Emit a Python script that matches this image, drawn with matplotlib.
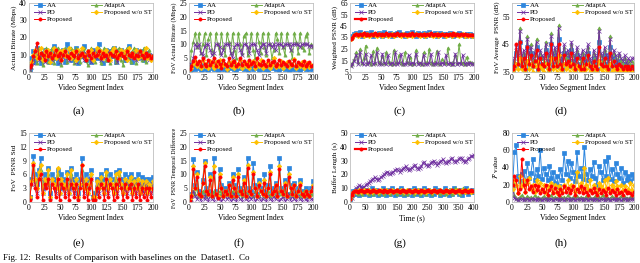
import numpy as np
import matplotlib
matplotlib.use("Agg")
import matplotlib.pyplot as plt

plt.rcParams['font.family'] = ['Liberation Serif', 'DejaVu Serif']
plt.rcParams['mathtext.fontset'] = 'stix'

names = ["AA", "AdaptA", "PD", "Proposed w/o ST", "Proposed"]
colors = ["#2E86DE", "#70AD47", "#7030A0", "#FFC000", "#FF0000"]
markers = ["s", "^", "x", "D", "o"]

# (a) Actual Bitrate (Mbps)
a_AA = [2, 8, 12, 6, 14, 9, 5, 11, 13, 7, 10, 6, 12, 15, 8, 5, 11, 9, 13, 6, 16, 10, 7, 12, 8, 14, 5, 9, 11, 15, 7, 10, 12, 6, 13, 9, 8, 16, 11, 5, 10, 13, 7, 12, 9, 14, 6, 11, 8, 13, 10, 7, 12, 15, 9, 6, 11, 13, 8, 10, 12, 7, 9, 11, 10, 8, 9]
a_AdaptA = [1, 3, 7, 13, 5, 14, 8, 4, 12, 14, 6, 9, 14, 5, 11, 14, 7, 4, 13, 14, 6, 10, 14, 8, 5, 14, 12, 6, 9, 14, 7, 4, 12, 14, 8, 6, 13, 14, 5, 10, 14, 7, 12, 5, 14, 9, 6, 13, 14, 7, 4, 11, 14, 8, 6, 12, 14, 5, 9, 13, 7, 14, 6, 10, 13, 8, 9]
a_PD = [1, 3, 5, 8, 10, 7, 9, 11, 6, 8, 12, 9, 7, 10, 8, 11, 6, 9, 12, 8, 10, 7, 9, 11, 8, 6, 10, 12, 9, 7, 11, 8, 10, 6, 9, 12, 8, 10, 7, 11, 9, 8, 12, 7, 10, 9, 11, 6, 8, 10, 12, 9, 7, 11, 8, 10, 9, 7, 12, 8, 10, 9, 11, 8, 7, 9, 10]
a_WoST = [4, 6, 10, 13, 8, 11, 14, 7, 12, 9, 13, 6, 10, 14, 8, 11, 12, 7, 13, 9, 10, 14, 8, 12, 11, 7, 13, 9, 14, 10, 8, 12, 11, 13, 7, 10, 14, 9, 12, 8, 11, 13, 10, 7, 12, 14, 9, 11, 8, 13, 10, 12, 7, 14, 9, 11, 10, 13, 8, 12, 9, 11, 14, 8, 10, 7, 9]
a_Prop = [3, 4, 9, 12, 17, 8, 11, 10, 7, 12, 9, 11, 8, 10, 13, 9, 11, 7, 10, 12, 9, 8, 11, 10, 9, 12, 8, 10, 11, 9, 7, 12, 10, 8, 11, 9, 10, 12, 8, 11, 9, 10, 7, 11, 10, 9, 12, 8, 10, 11, 9, 8, 12, 10, 9, 11, 8, 10, 9, 12, 10, 8, 11, 9, 10, 8, 9]

# (b) FoV Actual Bitrate (Mbps)
b_AA = [0.5, 1, 2, 1, 3, 1.5, 0.8, 2.5, 1, 2, 0.7, 3, 1.5, 1, 2.5, 0.8, 2, 1.2, 3, 1, 0.6, 2, 1.5, 2.8, 1, 0.8, 2.2, 1.5, 3, 1, 2, 0.7, 1.8, 2.5, 1, 1.5, 3, 0.8, 2, 1.2, 2.6, 1, 0.7, 2, 1.5, 3, 1, 2.2, 0.8, 1.6, 2.5, 1, 2, 0.8, 2.8, 1.2, 1.8, 1, 2.4, 0.7, 1.6, 2.2, 1, 2.5, 1.2, 1.8, 1]
b_AdaptA = [1, 8, 11, 14, 9, 14, 7, 10, 14, 6, 12, 14, 8, 5, 14, 10, 7, 14, 9, 6, 14, 11, 7, 14, 8, 5, 14, 10, 7, 13, 14, 6, 9, 14, 8, 5, 14, 11, 7, 14, 9, 6, 14, 10, 5, 8, 14, 12, 7, 14, 9, 6, 14, 10, 8, 5, 14, 11, 7, 14, 9, 8, 13, 14, 7, 10, 9]
b_PD = [3, 3, 5, 10, 9, 10, 7, 6, 9, 10, 10, 8, 6, 7, 10, 10, 9, 6, 8, 10, 10, 10, 7, 5, 9, 10, 10, 8, 6, 10, 10, 9, 7, 10, 10, 10, 8, 6, 9, 10, 10, 7, 10, 10, 9, 10, 8, 10, 10, 10, 9, 10, 10, 10, 8, 10, 10, 10, 10, 9, 10, 10, 10, 10, 9.5, 9.5, 9.5]
b_WoST = [1, 1.5, 3, 4, 2, 3.5, 1.5, 4.5, 2, 3, 1.5, 4, 2.5, 1.5, 3.5, 2, 4.5, 1.8, 3, 2.5, 1.2, 3.8, 2, 4, 1.5, 3, 2.2, 4.5, 1.5, 3, 2, 3.8, 1.4, 2.8, 4, 1.6, 3.2, 2, 4.2, 1.5, 3, 2.2, 3.6, 1.4, 2.6, 5, 1.8, 3, 2.2, 4, 1.5, 2.8, 3.5, 1.8, 3, 2.4, 4.6, 1.6, 3, 2.2, 3.8, 1.5, 2.6, 3.2, 1.8, 2.5, 2]
b_Prop = [1, 2, 4, 5.5, 3, 4, 2, 5, 3, 2, 4.5, 2.5, 3.5, 5, 2, 4, 3, 1.5, 4.5, 3, 2, 5, 2.5, 3.5, 4, 2, 3, 5, 2.5, 4, 3, 2, 4.5, 3, 3.5, 2, 5, 3, 2.5, 4, 3, 2, 4.5, 2.5, 3.5, 4, 2, 3, 4.5, 2.5, 3.5, 3, 2, 4, 3, 2.5, 4.5, 2, 3.5, 3, 2.5, 4, 2, 3, 3.5, 2, 2.5]

# (c) Weighted PSNR (dB)
c_AA = [35, 36, 38, 39, 37, 40, 36, 38, 39, 37, 38, 40, 36, 38, 37, 39, 38, 36, 40, 37, 38, 39, 36, 38, 37, 39, 40, 37, 38, 36, 39, 38, 37, 40, 38, 36, 39, 37, 38, 39, 36, 38, 40, 37, 38, 39, 36, 37, 39, 38, 36, 38, 37, 39, 38, 36, 38, 37, 39, 38, 37, 36, 38, 37, 38, 36, 37]
c_AdaptA = [11, 13, 16, 22, 14, 25, 13, 17, 28, 13, 14, 12, 23, 13, 26, 14, 13, 19, 13, 22, 14, 13, 12, 24, 13, 14, 20, 13, 12, 22, 14, 13, 18, 12, 13, 24, 14, 13, 12, 22, 13, 14, 25, 13, 12, 14, 23, 13, 12, 16, 14, 13, 26, 13, 12, 14, 20, 13, 29, 14, 13, 12, 18, 13, 14, 13, 13]
c_PD = [10, 12, 15, 20, 12, 22, 13, 12, 21, 12, 13, 20, 12, 13, 22, 12, 12, 21, 13, 12, 20, 12, 13, 12, 22, 12, 13, 21, 12, 12, 13, 20, 12, 13, 12, 21, 12, 13, 12, 20, 12, 12, 13, 21, 12, 12, 13, 22, 12, 13, 12, 20, 12, 13, 12, 12, 21, 12, 13, 12, 20, 12, 13, 12, 13, 12, 12]
c_WoST = [34, 35, 37, 38, 36, 37, 38, 36, 37, 38, 36, 37, 38, 37, 36, 38, 37, 36, 37, 38, 36, 37, 38, 36, 37, 38, 37, 36, 38, 37, 36, 37, 38, 36, 37, 38, 37, 36, 37, 38, 36, 37, 38, 37, 36, 37, 38, 36, 37, 38, 37, 36, 37, 38, 36, 37, 38, 37, 36, 37, 38, 36, 37, 36, 37, 36, 36]
c_Prop = [34, 35, 37, 38, 37.5, 38, 37, 38.5, 37.5, 38, 37, 38, 37.5, 38.5, 37, 38, 37.5, 38, 37, 38.5, 37.5, 38, 37, 38, 37.5, 38.5, 37, 38, 37.5, 38, 37, 38, 37.5, 38.5, 37, 38, 37.5, 38, 37, 38, 37.5, 38, 37, 38.5, 37.5, 38, 37, 38, 37.5, 38, 37, 38, 37.5, 38, 37, 38.5, 37.5, 38, 37, 38, 37.5, 38, 37, 37.5, 37, 37.5, 37]

# (d) FoV Average PSNR (dB)
d_AA = [36, 37, 42, 38, 46, 37, 40, 36, 44, 38, 42, 37, 39, 44, 36, 40, 38, 37, 43, 39, 36, 45, 38, 41, 37, 47, 39, 36, 42, 38, 40, 37, 43, 39, 36, 41, 38, 37, 40, 36, 39, 42, 37, 36, 40, 38, 36, 46, 39, 37, 41, 38, 36, 44, 37, 40, 38, 36, 39, 37, 36, 38, 36, 37, 36, 37, 36]
d_AdaptA = [37, 39, 43, 40, 51, 39, 42, 38, 48, 40, 45, 39, 41, 47, 38, 42, 40, 39, 46, 41, 38, 49, 40, 43, 39, 52, 41, 38, 44, 40, 42, 39, 45, 41, 38, 43, 40, 39, 42, 38, 41, 44, 39, 37, 42, 40, 38, 51, 41, 39, 43, 40, 38, 48, 39, 42, 40, 37, 41, 39, 38, 40, 37, 39, 38, 39, 38]
d_PD = [38, 40, 44, 41, 50, 40, 43, 39, 47, 41, 44, 40, 42, 46, 39, 43, 41, 40, 45, 42, 39, 48, 41, 44, 40, 51, 42, 39, 45, 41, 43, 40, 46, 42, 39, 44, 41, 40, 43, 39, 42, 45, 40, 38, 43, 41, 39, 50, 42, 40, 44, 41, 39, 47, 40, 43, 41, 38, 42, 40, 39, 41, 38, 40, 39, 40, 40]
d_WoST = [35, 36, 38, 36, 40, 36, 37, 35, 39, 36, 38, 35, 37, 39, 35, 37, 36, 35, 38, 36, 35, 40, 36, 37, 35, 41, 36, 35, 38, 36, 37, 35, 38, 36, 35, 37, 36, 35, 37, 35, 36, 38, 35, 35, 37, 36, 35, 39, 36, 35, 37, 36, 35, 38, 35, 36, 36, 35, 36, 35, 35, 36, 35, 36, 35, 35, 35]
d_Prop = [36, 37, 45, 38, 46, 37, 40, 36, 44, 38, 41, 37, 39, 43, 36, 40, 38, 37, 42, 38, 36, 45, 37, 40, 37, 45, 38, 36, 41, 38, 39, 37, 42, 38, 36, 40, 37, 36, 40, 36, 38, 41, 37, 36, 39, 37, 36, 44, 38, 37, 40, 37, 36, 42, 37, 39, 37, 36, 38, 37, 36, 37, 36, 37, 36, 37, 36]

# (e) FoV PSNR Std
e_AA = [1, 5, 10, 6, 4, 7, 9.5, 3, 6, 5, 7.5, 2, 6, 5, 4, 7, 3, 6, 5, 4, 6.5, 3, 7.5, 5, 4, 6, 2, 5, 9.5, 4, 6, 3, 5, 7, 1, 2, 5, 4, 6, 5, 3, 7, 4, 6, 5, 3, 6.5, 4, 7, 5, 3, 6, 4, 5.5, 6, 3, 5, 4, 6, 3, 5.5, 4, 5, 3, 5, 4, 5.5]
e_AdaptA = [1, 4, 8, 5, 3, 6, 7, 2, 5, 4, 6, 1, 5, 4, 3, 6, 2, 5, 4, 3, 5, 2, 6, 4, 3, 5, 1, 4, 7, 3, 5, 2, 4, 6, 1, 1, 4, 3, 5, 4, 2, 6, 3, 5, 4, 2, 5, 3, 6, 4, 2, 5, 3, 4, 5, 2, 4, 3, 5, 2, 4, 3, 4, 2, 4, 3, 4]
e_PD = [1, 4, 5, 4, 2, 5, 5, 2, 4, 4, 5, 1, 4, 4, 2, 5, 2, 4, 4, 2, 4, 2, 5, 4, 2, 4, 1, 4, 5, 2, 4, 2, 4, 5, 1, 1, 4, 2, 4, 4, 2, 5, 2, 4, 4, 2, 4, 2, 5, 4, 2, 4, 2, 4, 4, 2, 4, 2, 4, 2, 4, 2, 4, 2, 4, 2, 4]
e_WoST = [1, 4.5, 8.5, 5, 3, 6.5, 8, 2, 5, 4, 7, 1, 5, 4, 3, 7.5, 2, 5, 4, 3, 6, 2, 7, 4, 3, 5, 1, 4, 8, 3, 5, 2, 4, 6, 1, 1, 4.5, 3, 5.5, 4, 2, 6.5, 3, 5, 4, 2, 6, 3, 6.5, 4, 2, 5, 3, 4.5, 5.5, 2, 4.5, 3, 5, 2, 4.5, 3, 4.5, 2, 4, 3, 4.5]
e_Prop = [0.5, 4, 8, 3, 1, 5, 6, 0.5, 4, 3, 5, 0.5, 4, 3, 1, 5, 0.5, 4, 3, 1, 5, 0.5, 4, 3, 1, 4, 0.5, 3, 8, 1, 4, 0.5, 3, 5, 0.5, 0.5, 3, 1, 4, 3, 0.5, 5, 1, 4, 3, 0.5, 4, 1, 5, 3, 0.5, 4, 1, 3, 4, 0.5, 3, 1, 4, 0.5, 3, 1, 3, 0.5, 3, 1, 3]

# (f) FoV PSNR Temporal Difference
f_AA = [1, 3, 15.5, 6, 11, 4, 3, 8, 15, 5, 4, 10, 3, 16, 4, 2, 12, 6, 3, 5, 4, 7, 3, 10, 6, 3, 12, 5, 4, 9, 3, 16, 5, 4, 14, 6, 3, 8, 5, 4, 10, 3, 6, 13, 4, 5, 7, 3, 16, 5, 4, 8, 3, 12.5, 6, 4, 7, 3, 5, 8, 4, 3, 5, 4, 3, 5, 7.5]
f_AdaptA = [0.5, 2, 4, 3, 5, 2, 3, 4, 3, 2, 4, 3, 2, 4, 3, 2, 4, 3, 2, 3, 4, 2, 3, 4, 2, 3, 4, 3, 2, 4, 3, 2, 4, 3, 2, 4, 3, 2, 4, 3, 2, 3, 4, 2, 3, 4, 2, 3, 4, 3, 2, 4, 3, 2, 4, 3, 2, 3, 4, 2, 3, 4, 2, 3, 2, 3, 3]
f_PD = [0.5, 1, 4, 2, 1, 3, 0.5, 2, 1, 3, 0.5, 2, 1, 0.5, 3, 1, 2, 0.5, 1, 3, 1, 2, 0.5, 1, 3, 0.5, 2, 1, 0.5, 3, 1, 0.5, 2, 1, 3, 0.5, 1, 2, 0.5, 1, 3, 0.5, 2, 1, 0.5, 2, 1, 3, 0.5, 1, 2, 0.5, 1, 3, 0.5, 2, 1, 0.5, 2, 1, 0.5, 2, 1, 0.5, 2, 1, 1]
f_WoST = [1, 2.5, 13, 5, 10, 3, 2, 7, 14, 4, 3, 9, 2, 13, 3, 2, 10, 5, 2, 4, 3, 6, 2, 9, 5, 2, 10, 4, 3, 8, 2, 13.5, 4, 3, 11, 5, 2, 7, 4, 3, 8, 2, 5, 11, 3, 4, 6, 2, 13, 4, 3, 7, 2, 10, 5, 3, 6, 2, 4, 7, 3, 2, 4, 3, 2, 4, 6]
f_Prop = [0.5, 2, 12, 5, 9, 3, 2, 7, 13, 4, 3, 8, 2, 11, 3, 1.5, 9, 5, 2, 4, 3, 6, 2, 8, 5, 2, 9, 4, 3, 7, 2, 12.5, 4, 3, 10, 5, 2, 6, 4, 3, 7, 2, 5, 10, 3, 4, 6, 2, 12, 4, 3, 6, 2, 9, 5, 3, 6, 2, 4, 6, 3, 2, 4, 3, 2, 4, 5.5]

# (g) Buffer Length (s) vs Time (s)
g_AA = [2, 5, 8, 6, 9, 7, 5, 8, 10, 6, 9, 7, 5, 8, 10, 6, 7, 9, 5, 8, 6, 10, 7, 5, 9, 8, 6, 10, 7, 5, 8, 9, 6, 10, 7, 5, 8, 6, 9, 7, 5, 10, 8, 6, 9, 7, 5, 8, 10, 6, 9, 7, 5, 8, 6, 10, 7, 9, 5, 8, 6, 10, 7, 8, 5, 9, 6, 10, 7, 8, 6, 9, 5, 8, 7, 10, 6, 8, 7, 9, 7]
g_AdaptA = [1, 4, 7, 9, 8, 6, 9, 7, 6, 8, 9, 7, 6, 9, 8, 6, 7, 9, 8, 6, 7, 9, 6, 8, 7, 9, 6, 8, 9, 7, 6, 8, 9, 7, 6, 9, 8, 6, 7, 9, 8, 6, 9, 7, 8, 6, 9, 7, 8, 6, 9, 8, 7, 6, 9, 8, 7, 9, 6, 8, 7, 9, 6, 8, 9, 7, 6, 8, 10, 7, 9, 6, 8, 10, 9, 7, 8, 9, 7, 8, 9]
g_PD = [0, 3, 6, 8, 10, 11, 12, 11.5, 10, 11, 12, 13, 14, 15, 16, 17, 18, 17, 16, 17, 18, 19, 20, 21, 22, 21, 20, 21, 22, 23, 24, 23, 22, 23, 24, 25, 26, 24, 23, 24, 25, 26, 27, 25, 24, 25, 26, 28, 29, 27, 26, 27, 28, 29, 30, 28, 27, 28, 29, 30, 31, 29, 28, 29, 30, 31, 32, 30, 29, 30, 31, 32, 32, 30, 29, 30, 31, 32, 33, 33.5, 34]
g_WoST = [2, 5, 7, 8, 7, 8, 9, 7, 8, 9, 8, 7, 9, 8, 7, 8, 9, 8, 7, 8, 9, 7, 8, 9, 8, 7, 8, 9, 7, 8, 9, 8, 7, 9, 8, 7, 8, 9, 8, 7, 8, 9, 7, 8, 9, 8, 7, 8, 9, 7, 8, 9, 8, 7, 9, 8, 7, 8, 9, 8, 7, 8, 9, 7, 8, 9, 8, 7, 8, 9, 7, 8, 9, 8, 7, 8, 9, 8, 7, 8, 8]
g_Prop = [2, 5, 7, 8, 8, 7.5, 8, 8.5, 8, 7.5, 8, 8.5, 8, 7.5, 8, 9, 8, 7.5, 8, 8.5, 8, 7.5, 8.5, 8, 7.5, 8, 8.5, 8, 7.5, 8, 8.5, 8, 7.5, 8, 8.5, 8, 7.5, 8, 8.5, 8, 7.5, 8, 8.5, 8, 7.5, 8, 8.5, 8, 7.5, 8, 8.5, 8, 7.5, 8, 8.5, 8, 7.5, 8, 8.5, 8, 7.5, 8, 8.5, 8, 7.5, 8, 8.5, 8, 7.5, 8, 8.5, 8, 7.5, 8, 8.5, 8, 7.5, 8, 8.5, 8, 8]

# (h) F value
h_AA = [20, 58, 66, 30, 24, 33, 36, 22, 45, 28, 34, 50, 26, 38, 30, 60, 27, 40, 33, 25, 42, 28, 35, 22, 30, 18, 38, 26, 57, 32, 47, 28, 45, 35, 24, 58, 30, 40, 27, 64, 33, 25, 38, 30, 46, 28, 20, 42, 35, 26, 48, 30, 52, 27, 38, 24, 45, 32, 28, 40, 22, 35, 26, 30, 24, 32, 28]
h_AdaptA = [22, 8, 5, 4, 6, 8, 5, 4, 7, 5, 6, 4, 8, 5, 6, 4, 5, 7, 4, 6, 5, 8, 4, 6, 5, 4, 7, 5, 6, 4, 8, 5, 4, 6, 5, 7, 4, 6, 5, 4, 7, 5, 6, 4, 5, 7, 4, 6, 5, 8, 4, 6, 5, 4, 7, 5, 6, 4, 5, 7, 4, 6, 5, 4, 6, 5, 5]
h_PD = [18, 5, 3, 2, 3, 4, 2, 3, 4, 2, 3, 4, 3, 2, 4, 3, 2, 3, 4, 2, 3, 4, 2, 3, 3, 2, 4, 3, 2, 3, 4, 2, 3, 4, 2, 3, 3, 4, 2, 3, 4, 2, 3, 3, 2, 4, 3, 2, 3, 4, 2, 3, 4, 2, 3, 3, 2, 4, 3, 2, 3, 4, 2, 3, 3, 4, 3]
h_WoST = [15, 25, 20, 10, 30, 18, 25, 12, 22, 28, 15, 20, 12, 25, 18, 22, 14, 20, 10, 18, 15, 22, 12, 20, 10, 18, 15, 12, 20, 16, 25, 14, 20, 18, 12, 35, 16, 22, 14, 40, 20, 15, 25, 12, 20, 16, 10, 22, 18, 14, 25, 16, 28, 12, 20, 15, 24, 18, 12, 20, 14, 18, 12, 15, 22, 14, 20]
h_Prop = [20, 30, 25, 10, 15, 50, 20, 12, 25, 15, 18, 12, 20, 14, 18, 10, 15, 12, 20, 8, 14, 18, 10, 16, 12, 8, 15, 10, 18, 12, 16, 10, 14, 18, 8, 15, 12, 18, 10, 16, 12, 8, 14, 10, 16, 12, 8, 15, 10, 14, 12, 8, 16, 10, 14, 12, 8, 15, 10, 12, 8, 14, 10, 12, 10, 8, 12]

panels = [
    ("(a)", "Actual Bitrate (Mbps)", [a_AA, a_AdaptA, a_PD, a_WoST, a_Prop], (0, 40), [0, 10, 20, 30, 40]),
    ("(b)", "FoV Actual Bitrate (Mbps)", [b_AA, b_AdaptA, b_PD, b_WoST, b_Prop], (0, 25), [0, 5, 10, 15, 20, 25]),
    ("(c)", "Weighted PSNR (dB)", [c_AA, c_AdaptA, c_PD, c_WoST, c_Prop], (5, 65), [5, 15, 25, 35, 45, 55, 65]),
    ("(d)", "FoV Average  PSNR (dB)", [d_AA, d_AdaptA, d_PD, d_WoST, d_Prop], (35, 60), [35, 45, 55]),
    ("(e)", "FoV  PSNR Std", [e_AA, e_AdaptA, e_PD, e_WoST, e_Prop], (0, 15), [0, 3, 6, 9, 12, 15]),
    ("(f)", "FoV  PSNR Temporal Difference", [f_AA, f_AdaptA, f_PD, f_WoST, f_Prop], (0, 25), [0, 5, 10, 15, 20, 25]),
    ("(g)", "Buffer Length (s)", [g_AA, g_AdaptA, g_PD, g_WoST, g_Prop], (0, 50), [0, 10, 20, 30, 40, 50]),
    ("(h)", r"$\mathcal{F}$ value", [h_AA, h_AdaptA, h_PD, h_WoST, h_Prop], (0, 80), [0, 20, 40, 60, 80]),
]
ylab_sizes = [5.2, 4.7, 5.2, 5.0, 5.2, 4.3, 5.2, 5.2]

W, H = 640, 263
fig = plt.figure(figsize=(W / 100, H / 100), dpi=100)
lefts = [29, 189, 350, 512]
widths = [124, 124, 124, 122]
tops = [3, 133]
ah = 69

for i, (lab, ylab, series, ylim, yt) in enumerate(panels):
    r, c = divmod(i, 4)
    l = lefts[c]
    t = tops[r]
    ax = fig.add_axes([l / W, (H - t - ah) / H, widths[c] / W, ah / H])
    is_g = (lab == "(g)")
    handles = []
    for k, (vals, nm, col, mk) in enumerate(zip(series, names, colors, markers)):
        if is_g:
            x = np.linspace(0, 400, len(vals))
        else:
            x = np.linspace(1, 200, len(vals))
        lw = 0.7
        ms = 2.3
        if nm == "Proposed" and lab in ("(c)", "(g)"):
            lw = 1.6
        h, = ax.plot(x, vals, color=col, marker=mk, markersize=ms, lw=lw,
                     markeredgewidth=0.5, label=nm)
        handles.append(h)
    if is_g:
        ax.set_xlim(0, 400)
        ax.set_xticks(range(0, 401, 50))
        ax.set_xlabel("Time (s)", fontsize=5.5, labelpad=1.5)
    else:
        ax.set_xlim(0, 200)
        ax.set_xticks(range(0, 201, 25))
        ax.set_xlabel("Video Segment Index", fontsize=5.5, labelpad=1.5)
    ax.set_ylim(*ylim)
    ax.set_yticks(yt)
    ax.set_ylabel(ylab, fontsize=ylab_sizes[i], labelpad=1.5)
    ax.tick_params(length=0, labelsize=5.5, pad=1.5)
    for s in ax.spines.values():
        s.set_color("#BFBFBF")
        s.set_linewidth(0.6)
    order = [0, 2, 4, 1, 3]
    ax.legend([handles[j] for j in order], [names[j] for j in order],
              ncol=2, loc="upper left", bbox_to_anchor=(0.03, 0.0, 0.97, 1.03),
              mode="expand", frameon=False, fontsize=5, handlelength=1.6,
              handletextpad=0.3, labelspacing=0.15, borderpad=0.2,
              borderaxespad=0.0, columnspacing=0.5)
    lx = l + widths[c] / 2 - 12
    ly = 111 if r == 0 else 243
    fig.text(lx / W, (H - ly) / H, lab, fontsize=8, ha="center", va="center")

fig.text(3 / W, 1.5 / H, "Fig. 12:  Results of Comparison with baselines on the  Dataset1.  Co",
         fontsize=6.5, ha="left", va="bottom")

fig.savefig("out.png", dpi=100)
